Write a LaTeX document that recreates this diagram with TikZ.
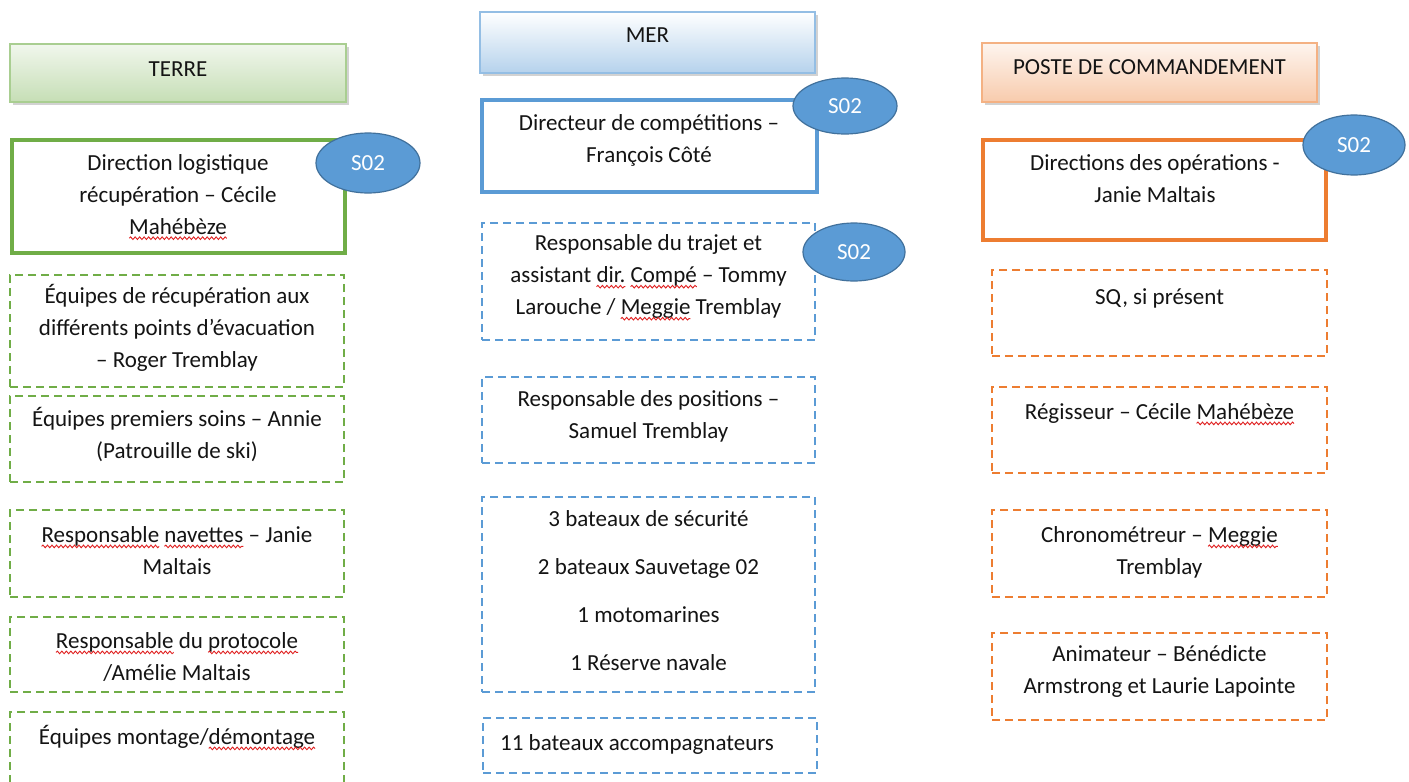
\documentclass[tikz,border=0pt]{standalone}
\usepackage{fontspec}
\setmainfont{Carlito}
\usetikzlibrary{shadows,shapes.geometric,decorations.pathmorphing}
\definecolor{cgreen}{HTML}{70AD47}
\definecolor{cblue}{HTML}{5B9BD5}
\definecolor{corange}{HTML}{ED7D31}
\definecolor{ellborder}{HTML}{41719C}
\definecolor{txtc}{HTML}{141414}
\definecolor{sqred}{HTML}{E02020}
\newcommand\sqw[1]{\tikz[baseline=(sqwd.base)]{\node[inner sep=0pt, outer sep=0pt, anchor=base] (sqwd) {#1};
  \draw[overlay, sqred, line width=0.9pt, decorate, decoration={snake, amplitude=1.3pt, segment length=4.5pt}]
    ([yshift=-4pt]sqwd.base west) -- ([yshift=-4pt]sqwd.base east);}}
\tikzset{
  hdr/.style n args={3}{draw=#1, top color=#2, bottom color=#3, line width=1.8pt,
    drop shadow={shadow xshift=3pt, shadow yshift=-3pt, fill=black!35}, inner sep=0pt},
  mainbox/.style={draw=#1, line width=4pt, inner sep=0pt, fill=white},
  dbox/.style={draw=#1, line width=2.5pt, dash pattern=on 8pt off 5pt, inner sep=0pt},
  txt/.style={font=\fontsize{23}{32}\selectfont, align=center, text=txtc, inner sep=0pt,
    execute at begin node=\strut, execute at end node=\strut},
  sbadge/.style={ellipse, fill=cblue, draw=ellborder, line width=1.2pt, text=white,
    font=\fontsize{23}{26}\selectfont, inner sep=0pt}
}
\begin{document}
\begin{tikzpicture}[x=1pt,y=-1pt]
\clip (0,0) rectangle (1409,782);
\fill[white] (0,0) rectangle (1409,782);

% ---------------- TERRE ----------------
\node[hdr={cgreen!60}{cgreen!10}{cgreen!40}, minimum width=336pt, minimum height=58pt] (hT) at (178,73) {};
\node[txt] (hTt) at (178,70) {TERRE};
\node[mainbox=cgreen, minimum width=333pt, minimum height=113pt] (dT) at (178.5,196.5) {};
\node[txt] (dTt) at (178,199) {Direction logistique\\récupération – Cécile\\\sqw{Mahébèze}};
\node[sbadge, minimum width=104pt, minimum height=60pt] (eT) at (368,163) {S02};

\node[dbox=cgreen, minimum width=334pt, minimum height=112pt] (t1) at (177,331) {};
\node[txt] (t1t) at (177,331) {Équipes de récupération aux\\différents points d’évacuation\\– Roger Tremblay};
\node[dbox=cgreen, minimum width=334pt, minimum height=86pt] (t2) at (177,439) {};
\node[txt] (t2t) at (177,437.5) {Équipes premiers soins – Annie\\(Patrouille de ski)};
\node[dbox=cgreen, minimum width=334pt, minimum height=87pt] (t3) at (177,553.5) {};
\node[txt] (t3t) at (177,552) {\sqw{Responsable} \sqw{navettes} – Janie\\Maltais};
\node[dbox=cgreen, minimum width=334pt, minimum height=75pt] (t4) at (177,654.5) {};
\node[txt] (t4t) at (177,658) {\sqw{Responsable} du \sqw{protocole}\\/Amélie Maltais};
\node[dbox=cgreen, minimum width=334pt, minimum height=88pt] (t5) at (177,756) {};
\node[txt] (t5t) at (177,738) {Équipes montage/\sqw{démontage}};

% ---------------- MER ----------------
\node[hdr={cblue!65}{white}{cblue!45}, minimum width=335pt, minimum height=61pt] (hM) at (647.5,42.5) {};
\node[txt] (hMt) at (647.5,36) {MER};
\node[mainbox=cblue, minimum width=335pt, minimum height=92pt] (dM) at (649.5,146) {};
\node[txt] (dMt) at (649,143) {Directeur de compétitions –\\François Côté};
\node[sbadge, minimum width=104pt, minimum height=56pt] (eM1) at (845,106) {S02};

\node[dbox=cblue, minimum width=333pt, minimum height=117pt] (m1) at (648.5,281.5) {};
\node[txt] (m1t) at (648.5,279.5) {Responsable du trajet et\\assistant \sqw{dir.} \sqw{Compé} – Tommy\\Larouche / \sqw{Meggie} Tremblay};
\node[sbadge, minimum width=102pt, minimum height=58pt] (eM2) at (854,252) {S02};
\node[dbox=cblue, minimum width=333pt, minimum height=86pt] (m2) at (648.5,420) {};
\node[txt] (m2t) at (648.5,419) {Responsable des positions –\\Samuel Tremblay};
\node[dbox=cblue, minimum width=333pt, minimum height=195pt] (m3) at (648.5,594.5) {};
\node[txt] (m3t) at (648.5,595.5) {3 bateaux de sécurité\\[16pt]2 bateaux Sauvetage 02\\[16pt]1 motomarines\\[16pt]1 Réserve navale};
\node[dbox=cblue, minimum width=334pt, minimum height=55pt] (m4) at (650,745.5) {};
\node[txt, anchor=west] (m4t) at (500,744) {11 bateaux accompagnateurs};

% ---------------- POSTE DE COMMANDEMENT ----------------
\node[hdr={corange!60}{corange!8}{corange!40}, minimum width=335pt, minimum height=59pt] (hP) at (1149.5,72.5) {};
\node[txt] (hPt) at (1149.5,68) {POSTE DE COMMANDEMENT};
\node[mainbox=corange, minimum width=343pt, minimum height=100pt] (dP) at (1154.5,190) {};
\node[txt] (dPt) at (1155,183) {Directions des opérations -\\Janie Maltais};
\node[sbadge, minimum width=102pt, minimum height=60pt] (eP) at (1354,145) {S02};

\node[dbox=corange, minimum width=335pt, minimum height=86pt] (p1) at (1159.5,313) {};
\node[txt] (p1t) at (1159.5,298) {SQ, si présent};
\node[dbox=corange, minimum width=335pt, minimum height=86pt] (p2) at (1159.5,430) {};
\node[txt] (p2t) at (1159.5,413) {Régisseur – Cécile \sqw{Mahébèze}};
\node[dbox=corange, minimum width=335pt, minimum height=87pt] (p3) at (1159.5,553.5) {};
\node[txt] (p3t) at (1159.5,552) {Chronométreur – \sqw{Meggie}\\Tremblay};
\node[dbox=corange, minimum width=335pt, minimum height=87pt] (p4) at (1159.5,676.5) {};
\node[txt] (p4t) at (1159.5,674.5) {Animateur – Bénédicte\\Armstrong et Laurie Lapointe};
\end{tikzpicture}
\end{document}
